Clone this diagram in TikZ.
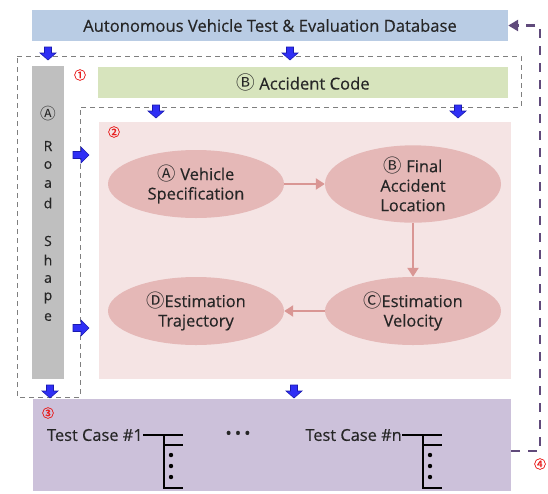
\documentclass[tikz,border=0pt]{standalone}
\usepackage{fontspec}
\setmainfont{Open Sans}[FakeBold=0.4]
\newfontfamily\textface{Open Sans}[FakeBold=0.4]
\newfontfamily\cjk{Noto Sans CJK KR}[Scale=1.12]
\newfontfamily\cjkbold{Noto Sans CJK KR}[FakeBold=1.6]
\usetikzlibrary{shapes.geometric,arrows.meta}

\definecolor{dbblue}{HTML}{B9CCE4}
\definecolor{codegreen}{HTML}{D7E4BD}
\definecolor{roadgray}{HTML}{BFBFBF}
\definecolor{areapink}{HTML}{F5E4E4}
\definecolor{ellpink}{HTML}{E5B8B7}
\definecolor{ellarrow}{HTML}{D99694}
\definecolor{casepurple}{HTML}{CCC1DA}
\definecolor{fbpurple}{HTML}{604A7B}
\definecolor{flowblue}{HTML}{2F2FF5}
\definecolor{flowedge}{HTML}{1A1AB0}
\definecolor{marknum}{HTML}{E81E1E}
\definecolor{boxgray}{HTML}{7F7F7F}
\definecolor{inktext}{HTML}{262626}

% circled letters come from the CJK family
\newcommand{\circled}[1]{{\cjk #1}}

\tikzset{
  banner/.style={fill=#1, draw=none, inner sep=0pt, text=inktext, font=\textface\fontsize{16.6}{18}\selectfont},
  stagebox/.style={draw=boxgray, line width=0.8pt, dash pattern=on 5pt off 4pt},
  procell/.style={ellipse, fill=ellpink, draw=none, minimum width=176pt, minimum height=68pt,
    align=center, inner sep=0pt, text=inktext, font=\textface\fontsize{16.4}{19.5}\selectfont},
  procarrow/.style={draw=ellarrow, line width=2.6pt, -{Triangle[length=9pt,width=11pt]}},
  feedback/.style={draw=fbpurple, line width=2.6pt, dash pattern=on 9pt off 8pt,
    -{Triangle[length=10pt,width=11pt]}},
  stepno/.style={text=marknum, font=\cjkbold\fontsize{12}{12}\selectfont, inner sep=0pt},
  roadletter/.style={font=\textface\fontsize{14}{14}\selectfont, inner sep=0pt, text=inktext},
  casetext/.style={font=\textface\fontsize{16.4}{18}\selectfont, inner sep=0pt, text=inktext},
  casetree/.style={draw=black, line width=1.2pt},
  blkdown/.pic={\filldraw[fill=flowblue, draw=flowedge, line width=0.6pt]
     (-3.5,-6) -- (3.5,-6) -- (3.5,0) -- (8,0) -- (0,7) -- (-8,0) -- (-3.5,0) -- cycle;},
  blkright/.pic={\filldraw[fill=flowblue, draw=flowedge, line width=0.6pt]
     (-8,-3.5) -- (0,-3.5) -- (0,-8) -- (8,0) -- (0,8) -- (0,3.5) -- (-8,3.5) -- cycle;}
}

\begin{document}
\begin{tikzpicture}[x=1pt, y=-1pt]
\useasboundingbox (0,0) rectangle (548,493);

% database banner
\node[banner=dbblue, minimum width=476pt, minimum height=31pt] (db) at (270,25.5)
  {Autonomous Vehicle Test \& Evaluation Database};

% stage 1: road shape and accident code
\draw[stagebox] (17,56) -- (521,56) -- (521,107) -- (80,107) -- (80,397) -- (17,397) -- cycle;
\node[banner=codegreen, minimum width=410pt, minimum height=31pt] (code) at (303,82.5)
  {\circled{Ⓑ} Accident Code};
\node[fill=roadgray, minimum width=32pt, minimum height=313pt, inner sep=0pt] (road) at (48,222.5) {};
\node[roadletter] (rA) at (48,114) {\circled{Ⓐ}};
\foreach \ch/\yy [count=\i] in {R/146,o/165,a/184,d/203,S/241,h/260,a/279,p/298,e/317}
  \node[roadletter] (r\i) at (48,\yy) {\ch};
\node[stepno] (n1) at (80,75) {①};

% stage 2: reconstruction
\node[fill=areapink, minimum width=412pt, minimum height=257pt, inner sep=0pt] (recon) at (305,250.5) {};
\node[stepno] (n2) at (114,132) {②};
\node[procell] (spec) at (196,184) {\circled{Ⓐ} Vehicle\\Specification};
\node[procell] (final) at (413,184) {\circled{Ⓑ} Final\\Accident\\Location};
\node[procell] (velo) at (413,311) {\circled{Ⓒ}Estimation\\Velocity};
\node[procell] (traj) at (196,311) {\circled{Ⓓ}Estimation\\Trajectory};
\draw[procarrow] (spec.east) -- (final.west);
\draw[procarrow] (final.south) -- (velo.north);
\draw[procarrow] (velo.west) -- (traj.east);

% stage 3: test cases
\node[fill=casepurple, minimum width=478pt, minimum height=92pt, inner sep=0pt] (cases) at (272,445) {};
\node[stepno] (n3) at (48,413) {③};
\node[casetext, anchor=east] (tc1) at (143,435) {Test Case \#1};
\node[casetext, anchor=east] (tcn) at (402,435) {Test Case \#n};
\foreach \t in {tc1,tcn} {
  \draw[casetree] (\t.east) -- ++(40,0);
  \draw[casetree] ([xshift=21pt]\t.east) -- ++(0,53) -- ++(19,0);
  \draw[casetree] ([xshift=21pt,yshift=-10pt]\t.east) -- ++(19,0);
  \foreach \dy in {20,31,42}
    \fill ([xshift=28pt,yshift=-\dy pt]\t.east) circle (2.2pt);
}
\node[casetext, font=\textface\fontsize{17}{18}\selectfont] (more) at (238,435) {•\hspace{3pt}•\hspace{3pt}•};

% feedback to the database
\draw[feedback] ([yshift=-6pt]cases.east) -- (540,451) -- (540,25.5) -- (db.east);
\node[stepno] (n4) at (540,464) {④};

% data flow markers
\pic at (48,53) {blkdown};
\pic at (290,53) {blkdown};
\pic at (156,111) {blkdown};
\pic at (458,111) {blkdown};
\pic at (81,155) {blkright};
\pic at (81,328) {blkright};
\pic at (50,391) {blkdown};
\pic at (294,391) {blkdown};
\end{tikzpicture}
\end{document}
